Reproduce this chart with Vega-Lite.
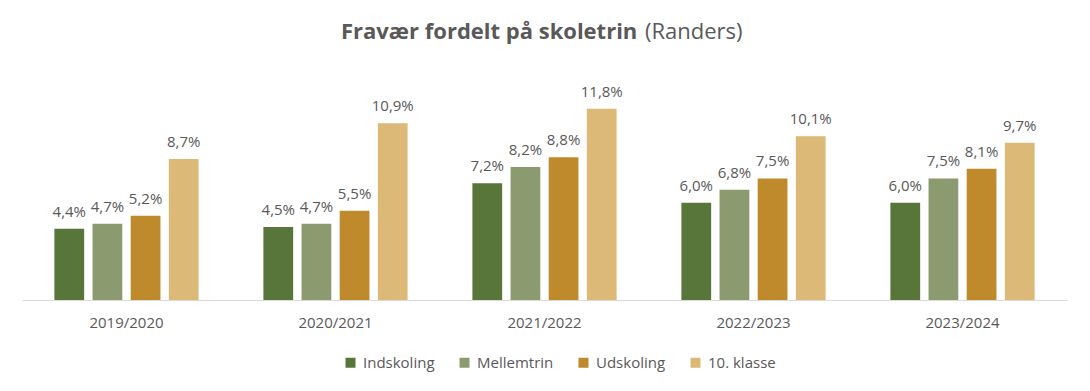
{
  "$schema": "https://vega.github.io/schema/vega-lite/v6.json",
  "width": 1045,
  "height": 227,
  "autosize": {"type": "none"},
  "padding": {"left": 22, "top": 73, "right": 23, "bottom": 91},
  "background": "white",
  "config": {
    "view": {"stroke": null},
    "font": "Open Sans",
    "locale": {"number": {"decimal": ",", "thousands": ".", "grouping": [3], "currency": ["", " kr."]}}
  },
  "title": {
    "text": "Fravær fordelt på skoletrin",
    "subtitle": "\u2800\u2800\u2800\u2800\u2800\u2800\u2800\u2800\u2800\u2800\u2800\u2800\u2800\u2800\u2800\u2800\u2800\u2800\u2800(Randers)",
    "anchor": "start",
    "frame": "group",
    "dx": 319,
    "offset": 29,
    "font": "Open Sans",
    "fontSize": 22,
    "fontWeight": "bold",
    "color": "#595959",
    "lineHeight": 22,
    "subtitleFont": "Open Sans",
    "subtitleFontSize": 22,
    "subtitleFontWeight": "normal",
    "subtitleColor": "#595959",
    "subtitleLineHeight": 22,
    "subtitlePadding": -22
  },
  "data": {
    "values": [
      {"year": "2019/2020", "level": "Indskoling", "value": 0.044},
      {"year": "2019/2020", "level": "Mellemtrin", "value": 0.047},
      {"year": "2019/2020", "level": "Udskoling", "value": 0.052},
      {"year": "2019/2020", "level": "10. klasse", "value": 0.087},
      {"year": "2020/2021", "level": "Indskoling", "value": 0.045},
      {"year": "2020/2021", "level": "Mellemtrin", "value": 0.047},
      {"year": "2020/2021", "level": "Udskoling", "value": 0.055},
      {"year": "2020/2021", "level": "10. klasse", "value": 0.109},
      {"year": "2021/2022", "level": "Indskoling", "value": 0.072},
      {"year": "2021/2022", "level": "Mellemtrin", "value": 0.082},
      {"year": "2021/2022", "level": "Udskoling", "value": 0.088},
      {"year": "2021/2022", "level": "10. klasse", "value": 0.118},
      {"year": "2022/2023", "level": "Indskoling", "value": 0.060},
      {"year": "2022/2023", "level": "Mellemtrin", "value": 0.068},
      {"year": "2022/2023", "level": "Udskoling", "value": 0.075},
      {"year": "2022/2023", "level": "10. klasse", "value": 0.101},
      {"year": "2023/2024", "level": "Indskoling", "value": 0.060},
      {"year": "2023/2024", "level": "Mellemtrin", "value": 0.075},
      {"year": "2023/2024", "level": "Udskoling", "value": 0.081},
      {"year": "2023/2024", "level": "10. klasse", "value": 0.097}
    ]
  },
  "encoding": {
    "x": {
      "field": "year",
      "type": "nominal",
      "sort": null,
      "scale": {"paddingInner": 0.31, "paddingOuter": 0.155},
      "axis": {
        "title": null,
        "labelAngle": 0,
        "ticks": false,
        "domainColor": "#d9d9d9",
        "domainWidth": 1,
        "labelFont": "Open Sans",
        "labelFontSize": 15,
        "labelColor": "#595959",
        "labelPadding": 15
      }
    },
    "xOffset": {
      "field": "level",
      "type": "nominal",
      "sort": ["Indskoling", "Mellemtrin", "Udskoling", "10. klasse"],
      "scale": {"paddingInner": 0.22, "paddingOuter": 0}
    },
    "y": {
      "field": "value",
      "type": "quantitative",
      "scale": {"domain": [0, 0.14]},
      "axis": null
    }
  },
  "layer": [
    {
      "mark": {"type": "bar"},
      "encoding": {
        "color": {
          "field": "level",
          "type": "nominal",
          "sort": ["Indskoling", "Mellemtrin", "Udskoling", "10. klasse"],
          "scale": {
            "domain": ["Indskoling", "Mellemtrin", "Udskoling", "10. klasse"],
            "range": ["#58753a", "#8c9a70", "#bf8a2b", "#dcb977"]
          },
          "legend": {
            "orient": "none",
            "legendX": 321,
            "legendY": 282,
            "direction": "horizontal",
            "title": null,
            "symbolType": "square",
            "symbolSize": 100,
            "symbolStrokeWidth": 0,
            "symbolOpacity": 1,
            "labelFont": "Open Sans",
            "labelFontSize": 15,
            "labelColor": "#595959",
            "labelOffset": 5,
            "columnPadding": 22
          }
        }
      }
    },
    {
      "mark": {
        "type": "text",
        "dy": -12,
        "baseline": "alphabetic",
        "font": "Open Sans",
        "fontSize": 15,
        "color": "#595959"
      },
      "encoding": {
        "text": {"field": "value", "type": "quantitative", "format": ".1%"}
      }
    }
  ]
}
